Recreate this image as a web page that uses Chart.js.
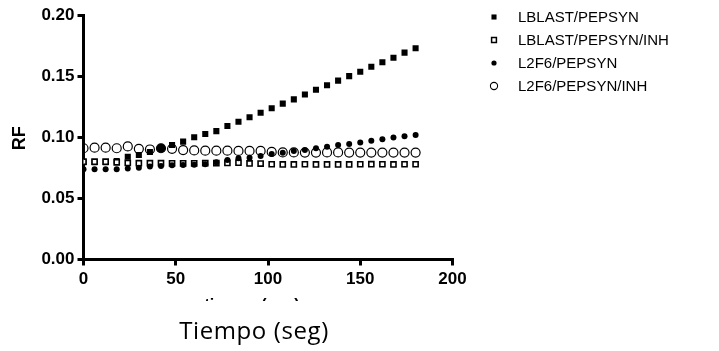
<!DOCTYPE html>
<html>
<head>
<meta charset="utf-8">
<script src="https://cdn.jsdelivr.net/npm/chart.js@4.4.1/dist/chart.umd.min.js"></script>
<style>
  html, body { margin: 0; padding: 0; background: #fff; }
  #wrap { width: 719px; height: 351px; position: relative; }
</style>
</head>
<body>
<div id="wrap"><canvas id="chart" width="719" height="351"></canvas></div>
<script>
    'use strict';

    // Data
    var times = [0, 6, 12, 18, 24, 30, 36, 42, 48, 54, 60, 66, 72, 78, 84, 90,
        96, 102, 108, 114, 120, 126, 132, 138, 144, 150, 156, 162, 168, 174, 180];
    var lblast = [0.0795, 0.0795, 0.0795, 0.0805, 0.0840, 0.0855, 0.0880, 0.0905, 0.0937, 0.0964, 0.1000,
        0.1027, 0.1050, 0.1092, 0.1127, 0.1163, 0.1200, 0.1237, 0.1275, 0.1310, 0.1350, 0.1389, 0.1425,
        0.1463, 0.1500, 0.1536, 0.1577, 0.1613, 0.1650, 0.1692, 0.1728];
    var lblastInh = [0.0800, 0.0800, 0.0800, 0.0795, 0.0790, 0.0788, 0.0788, 0.0788, 0.0787, 0.0787, 0.0787,
        0.0788, 0.0788, 0.0790, 0.0792, 0.0786, 0.0785, 0.0779, 0.0778, 0.0778, 0.0779, 0.0778, 0.0778,
        0.0778, 0.0778, 0.0779, 0.0780, 0.0779, 0.0778, 0.0779, 0.0779];
    var l2f6 = [0.0738, 0.0738, 0.0738, 0.0738, 0.0745, 0.0750, 0.0760, 0.0765, 0.0770, 0.0772, 0.0775,
        0.0780, 0.0795, 0.0814, 0.0828, 0.0832, 0.0847, 0.0863, 0.0874, 0.0888, 0.0896, 0.0910, 0.0923,
        0.0937, 0.0945, 0.0958, 0.0972, 0.0983, 0.0997, 0.1008, 0.1018];
    var l2f6Inh = [0.0910, 0.0915, 0.0915, 0.0910, 0.0925, 0.0905, 0.0900, 0.0910, 0.0905, 0.0895, 0.0892,
        0.0890, 0.0890, 0.0890, 0.0888, 0.0888, 0.0888, 0.0880, 0.0876, 0.0876, 0.0875, 0.0875, 0.0876,
        0.0876, 0.0875, 0.0875, 0.0875, 0.0875, 0.0875, 0.0875, 0.0875];
    var seriesNames = ['LBLAST/PEPSYN', 'LBLAST/PEPSYN/INH', 'L2F6/PEPSYN', 'L2F6/PEPSYN/INH'];
    var xTicks = [0, 50, 100, 150, 200];
    var yTicks = [0, 0.05, 0.10, 0.15, 0.20];
    var xTitle = 'Tiempo (seg)';
    var yTitle = 'RF';

    function pairs(vals) {
        return vals.map(function(v, i) { return { x: times[i], y: v }; });
    }

    // one open circle in the reference is drawn solid
    var openCircleFill = l2f6Inh.map(function(v, i) { return i === 7 ? '#000' : 'rgba(0,0,0,0)'; });

    var datasets = [
        { label: seriesNames[0], data: pairs(lblast), pointStyle: 'rect', pointRadius: 4.3,
          backgroundColor: '#000', borderColor: '#000', borderWidth: 0, order: 4 },
        { label: seriesNames[1], data: pairs(lblastInh), pointStyle: 'rect', pointRadius: 3.6,
          backgroundColor: '#fff', borderColor: '#000', borderWidth: 1.6, order: 3 },
        { label: seriesNames[2], data: pairs(l2f6), pointStyle: 'circle', pointRadius: 3,
          backgroundColor: '#000', borderColor: '#000', borderWidth: 0, order: 2 },
        { label: seriesNames[3], data: pairs(l2f6Inh), pointStyle: 'circle', pointRadius: 4.5,
          backgroundColor: openCircleFill, borderColor: '#000', borderWidth: 1.2, order: 1 }
    ];

    // Legend, axis titles and the half-hidden label under the axis
    var decor = {
        id: 'decor',
        afterDraw: function(chart) {
            var ctx = chart.ctx;
            var area = chart.chartArea;
            ctx.save();

            // legend
            var rowY = [17, 40, 63, 86];
            var legendStyle = [
                { style: 'rect', r: 3.6, fill: '#000', bw: 0 },
                { style: 'rect', r: 3.4, fill: '#fff', bw: 1.5 },
                { style: 'circle', r: 2.6, fill: '#000', bw: 0 },
                { style: 'circle', r: 3.6, fill: 'rgba(0,0,0,0)', bw: 1.1 }
            ];
            ctx.font = '15px Arial, "Liberation Sans", sans-serif';
            ctx.textBaseline = 'middle';
            ctx.textAlign = 'left';
            for (var i = 0; i < seriesNames.length; i++) {
                var s = legendStyle[i];
                ctx.fillStyle = s.fill;
                ctx.strokeStyle = '#000';
                ctx.lineWidth = s.bw;
                Chart.helpers.drawPoint(ctx, { pointStyle: s.style, radius: s.r, borderWidth: s.bw }, 494, rowY[i]);
                ctx.fillStyle = '#000';
                ctx.fillText(seriesNames[i], 518, rowY[i] + 1);
            }

            // y title
            ctx.save();
            ctx.translate(20, (area.top + area.bottom) / 2 + 1);
            ctx.rotate(-Math.PI / 2);
            ctx.font = 'bold 18px Arial, "Liberation Sans", sans-serif';
            ctx.textAlign = 'center';
            ctx.textBaseline = 'middle';
            ctx.fillStyle = '#000';
            ctx.fillText(yTitle, 0, 0);
            ctx.restore();

            // bold title hidden behind a white box, only its top shows
            ctx.save();
            ctx.beginPath();
            ctx.rect(0, 290, chart.width, 11);
            ctx.clip();
            ctx.font = 'bold 16px Arial, "Liberation Sans", sans-serif';
            ctx.textAlign = 'center';
            ctx.textBaseline = 'alphabetic';
            ctx.fillStyle = '#000';
            ctx.fillText(xTitle.toLowerCase(), 252, 310);
            ctx.restore();

            // x title
            ctx.font = '24px "Open Sans", Lato, sans-serif';
            ctx.letterSpacing = '0.6px';
            ctx.textAlign = 'center';
            ctx.textBaseline = 'alphabetic';
            ctx.fillStyle = '#000';
            ctx.fillText(xTitle, 254, 339);
            ctx.restore();
        }
    };

    var tickFont = { family: 'Arial, "Liberation Sans", sans-serif', size: 17, weight: 'bold' };

    new Chart(document.getElementById('chart').getContext('2d'), {
        type: 'scatter',
        data: { datasets: datasets },
        options: {
            responsive: false,
            animation: false,
            events: [],
            layout: { padding: { left: 0, top: 15, right: 266.5, bottom: 51.5 } },
            plugins: { legend: { display: false }, tooltip: { enabled: false } },
            scales: {
                x: {
                    type: 'linear', min: 0, max: 200,
                    afterBuildTicks: function(axis) { axis.ticks = xTicks.map(function(v) { return { value: v }; }); },
                    afterFit: function(axis) { axis.height = 40; },
                    border: { color: '#000', width: 3 },
                    grid: { drawOnChartArea: false, drawTicks: true, tickLength: 6, color: '#000', lineWidth: 3 },
                    ticks: { color: '#000', font: tickFont, padding: 4, maxRotation: 0 }
                },
                y: {
                    type: 'linear', min: 0, max: 0.2,
                    afterBuildTicks: function(axis) { axis.ticks = yTicks.map(function(v) { return { value: v }; }); },
                    afterFit: function(axis) { axis.width = 83.5; },
                    border: { color: '#000', width: 3 },
                    grid: { drawOnChartArea: false, drawTicks: true, tickLength: 6, color: '#000', lineWidth: 3 },
                    ticks: {
                        color: '#000', font: tickFont, padding: 3,
                        callback: function(v) { return Number(v).toFixed(2); }
                    }
                }
            }
        },
        plugins: [decor]
    });
</script>
</body>
</html>
